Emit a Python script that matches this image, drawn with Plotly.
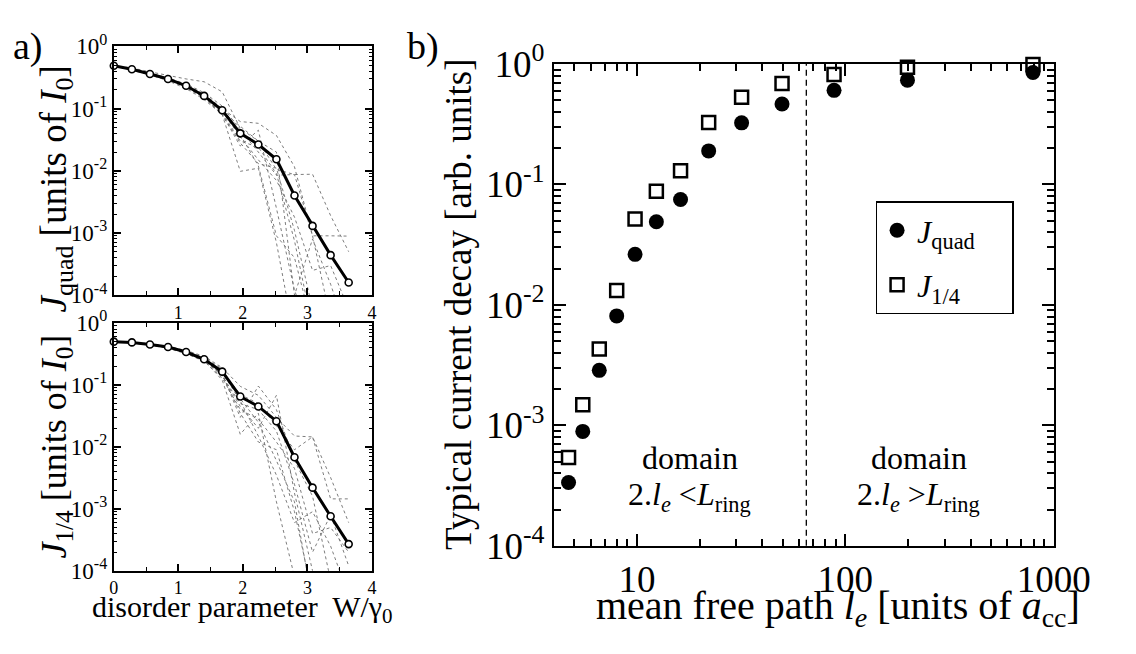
import plotly.graph_objects as go

# ---------------- data ----------------
W = [0, 0.28, 0.56, 0.84, 1.12, 1.40, 1.68, 1.96, 2.24, 2.52, 2.80, 3.08, 3.36, 3.64]

JQUAD_MEAN = [0.49, 0.43, 0.36, 0.30, 0.233, 0.16, 0.094, 0.040, 0.0265, 0.0153, 0.0040, 0.0013, 0.00044, 0.00016]
JQUAD_S1 = [0.49, 0.45, 0.39, 0.34, 0.30, 0.27, 0.186, 0.048, 0.030, 0.0105, 0.0087, 0.0088, 0.0019, 0.0005]
JQUAD_S2 = [0.49, 0.43, 0.37, 0.31, 0.24, 0.17, 0.10, 0.062, 0.058, 0.037, 0.0116, 0.0009, 0.00004, 0.00002]
JQUAD_S3 = [0.49, 0.43, 0.35, 0.29, 0.22, 0.15, 0.085, 0.030, 0.024, 0.009, 0.00075, 0.00003, 0.00002, 0.00002]
JQUAD_S4 = [0.49, 0.42, 0.35, 0.28, 0.21, 0.14, 0.080, 0.0098, 0.011, 0.0007, 0.00002, 0.00002, 0.00002, 0.00002]
JQUAD_S5 = [0.49, 0.44, 0.37, 0.31, 0.25, 0.18, 0.11, 0.045, 0.020, 0.0085, 0.0087, 0.0009, 0.0009, 0.00089]
JQUAD_S6 = [0.49, 0.43, 0.36, 0.30, 0.23, 0.16, 0.090, 0.035, 0.015, 0.007, 0.0018, 0.00025, 0.0003, 0.00006]
JQUAD_S7 = [0.49, 0.43, 0.36, 0.29, 0.22, 0.15, 0.080, 0.025, 0.045, 0.0025, 0.00012, 0.00002, 0.00002, 0.00002]
JQUAD_S8 = [0.49, 0.44, 0.37, 0.30, 0.24, 0.17, 0.10, 0.038, 0.012, 0.0009, 0.0004, 0.00003, 0.00002, 0.00002]
JQUAD_S9 = [0.49, 0.43, 0.36, 0.30, 0.23, 0.16, 0.090, 0.052, 0.030, 0.020, 0.0001, 0.0008, 0.00015, 0.00002]
JQUAD_S10 = [0.49, 0.43, 0.36, 0.30, 0.22, 0.15, 0.080, 0.028, 0.013, 0.011, 0.0011, 0.00006, 0.00002, 0.00002]

J14_MEAN = [0.50, 0.486, 0.45, 0.41, 0.34, 0.26, 0.164, 0.065, 0.045, 0.026, 0.0068, 0.0022, 0.00076, 0.00027]
J14_S1 = [0.50, 0.49, 0.46, 0.42, 0.36, 0.29, 0.19, 0.095, 0.068, 0.030, 0.015, 0.0145, 0.0032, 0.0006]
J14_S2 = [0.50, 0.49, 0.45, 0.40, 0.33, 0.25, 0.15, 0.030, 0.096, 0.040, 0.0060, 0.0016, 0.00007, 0.00003]
J14_S3 = [0.50, 0.48, 0.44, 0.40, 0.33, 0.25, 0.12, 0.016, 0.035, 0.0013, 0.00008, 0.00002, 0.00002, 0.00002]
J14_S4 = [0.50, 0.49, 0.45, 0.41, 0.34, 0.26, 0.14, 0.045, 0.020, 0.068, 0.0018, 0.0001, 0.00002, 0.00002]
J14_S5 = [0.50, 0.49, 0.45, 0.41, 0.35, 0.27, 0.17, 0.070, 0.050, 0.022, 0.009, 0.0145, 0.00145, 0.00145]
J14_S6 = [0.50, 0.48, 0.44, 0.39, 0.32, 0.24, 0.13, 0.040, 0.028, 0.012, 0.0045, 0.0004, 0.0005, 0.0002]
J14_S7 = [0.50, 0.49, 0.46, 0.42, 0.35, 0.28, 0.18, 0.060, 0.025, 0.006, 0.0013, 0.00003, 0.00002, 0.00002]
J14_S8 = [0.50, 0.49, 0.45, 0.41, 0.34, 0.26, 0.16, 0.055, 0.015, 0.0035, 0.0006, 0.0009, 0.00025, 0.00004]
J14_S9 = [0.50, 0.48, 0.45, 0.40, 0.33, 0.25, 0.14, 0.050, 0.040, 0.018, 0.0025, 0.0002, 0.0008, 0.00012]
J14_S10 = [0.50, 0.49, 0.45, 0.41, 0.34, 0.26, 0.15, 0.035, 0.012, 0.009, 0.0009, 0.00004, 0.00002, 0.00002]

LE = [4.7, 5.5, 6.6, 8.0, 9.8, 12.4, 16.2, 22.1, 31.8, 49.7, 88.3, 198.7, 795]
TYP_JQUAD = [3.35e-4, 8.9e-4, 2.86e-3, 8.1e-3, 0.0263, 0.049, 0.075, 0.19, 0.325, 0.466, 0.605, 0.735, 0.85]
TYP_J14 = [5.4e-4, 1.48e-3, 4.3e-3, 0.0132, 0.0516, 0.088, 0.130, 0.327, 0.53, 0.69, 0.82, 0.94, 0.99]
LE_BOUNDARY = 65  # 2 l_e = L_ring

LOG_TICKS = [1e-4, 1e-3, 1e-2, 1e-1, 1]
LOG_TICKTEXT = ["10<sup>-4</sup>", "10<sup>-3</sup>", "10<sup>-2</sup>", "10<sup>-1</sup>", "10<sup>0</sup>"]
A_XTICKS_TOP = [1, 2, 3, 4]
A_XTICKS_BOT = [0, 1, 2, 3, 4]
B_XTICKS = [10, 100, 1000]

FONT = "Liberation Serif"
W_PX, H_PX = 1136, 654


def px(x):
    return x / W_PX


def py(y):
    return 1 - y / H_PX


fig = go.Figure()

# ---------------- panel a ----------------
samples_top = (JQUAD_S1, JQUAD_S2, JQUAD_S3, JQUAD_S4, JQUAD_S5, JQUAD_S6, JQUAD_S7, JQUAD_S8, JQUAD_S9, JQUAD_S10)
samples_bot = (J14_S1, J14_S2, J14_S3, J14_S4, J14_S5, J14_S6, J14_S7, J14_S8, J14_S9, J14_S10)

thin = dict(color="#6e6e6e", width=0.9, dash="dot")
mean_line = dict(color="black", width=3)
mean_marker = dict(symbol="circle", size=7, color="white", line=dict(color="black", width=1.6))

for s in samples_top:
    fig.add_trace(go.Scatter(x=W, y=s, mode="lines", line=thin, xaxis="x", yaxis="y",
                             showlegend=False, hoverinfo="skip"))
fig.add_trace(go.Scatter(x=W, y=JQUAD_MEAN, mode="lines+markers", xaxis="x", yaxis="y", showlegend=False,
                         line=mean_line, marker=mean_marker, cliponaxis=False))
for s in samples_bot:
    fig.add_trace(go.Scatter(x=W, y=s, mode="lines", line=thin, xaxis="x2", yaxis="y2",
                             showlegend=False, hoverinfo="skip"))
fig.add_trace(go.Scatter(x=W, y=J14_MEAN, mode="lines+markers", xaxis="x2", yaxis="y2", showlegend=False,
                         line=mean_line, marker=mean_marker, cliponaxis=False))

# ---------------- panel b ----------------
fig.add_trace(go.Scatter(x=LE, y=TYP_JQUAD, mode="markers", xaxis="x3", yaxis="y3",
                         name="<i>J</i><sub>quad</sub>&nbsp;&nbsp;&nbsp;&nbsp;", legendgroup="g1",
                         cliponaxis=False,
                         marker=dict(symbol="circle", size=15, color="black")))
fig.add_trace(go.Scatter(x=LE, y=TYP_J14, mode="markers", xaxis="x3", yaxis="y3",
                         name="<i>J</i><sub>1/4</sub>", legendgroup="g2", cliponaxis=False,
                         marker=dict(symbol="square-open", size=13, color="black",
                                     line=dict(width=2.5, color="black"))))

axis_common = dict(showline=True, linecolor="black", linewidth=2, mirror="allticks",
                   ticks="inside", tickcolor="black", showgrid=False, zeroline=False)

a_dom_x = [px(113), px(381)]
a_xtickfont = dict(family=FONT, size=18, color="black")
a_ytickfont = dict(family=FONT, size=23, color="black")
b_tickfont = dict(family=FONT, size=37, color="black")
a_xminor = dict(dtick=0.5, ticks="inside", ticklen=4, tickcolor="black", tickwidth=1.2)
a_yminor = dict(dtick="D1", ticks="inside", ticklen=3, tickcolor="black", tickwidth=1)
b_minor = dict(dtick="D1", ticks="inside", ticklen=7, tickcolor="black", tickwidth=1.5)

fig.update_layout(
    xaxis=dict(**axis_common, domain=a_dom_x, anchor="y", range=[0, 4], tickvals=A_XTICKS_TOP,
               ticklen=7, tickwidth=1.5, tickfont=a_xtickfont, minor=a_xminor),
    yaxis=dict(**axis_common, domain=[py(290), py(22)], anchor="x", type="log", range=[-4, 0],
               tickvals=LOG_TICKS, ticktext=LOG_TICKTEXT, ticklen=7, tickwidth=1.5,
               tickfont=a_ytickfont, minor=a_yminor),
    xaxis2=dict(**axis_common, domain=a_dom_x, anchor="y2", range=[0, 4], tickvals=A_XTICKS_BOT,
                ticklen=7, tickwidth=1.5, tickfont=a_xtickfont, minor=a_xminor),
    yaxis2=dict(**axis_common, domain=[py(587), py(320)], anchor="x2", type="log", range=[-4, 0],
                tickvals=LOG_TICKS, ticktext=LOG_TICKTEXT, ticklen=7, tickwidth=1.5,
                tickfont=a_ytickfont, minor=a_yminor),
    xaxis3=dict(**axis_common, domain=[px(570), px(1089)], anchor="y3", type="log", range=[0.602, 3],
                tickvals=B_XTICKS, ticktext=[str(v) for v in B_XTICKS], ticklen=12, tickwidth=1.8,
                tickfont=b_tickfont, minor=b_minor),
    yaxis3=dict(**axis_common, domain=[py(560), py(41)], anchor="x3", type="log", range=[-4, 0],
                tickvals=LOG_TICKS, ticktext=LOG_TICKTEXT, ticklen=12, tickwidth=1.8,
                tickfont=b_tickfont, minor=b_minor),
)

fig.add_shape(type="line", xref="x3", yref="y3 domain", x0=LE_BOUNDARY, x1=LE_BOUNDARY, y0=0, y1=1,
              line=dict(color="black", width=1.3, dash="6px,4px"))

ann = []


def text(x, y, t, size, angle=0):
    ann.append(dict(xref="paper", yref="paper", x=px(x), y=py(y), text=t, showarrow=False,
                    font=dict(family=FONT, size=size, color="black"), textangle=angle,
                    xanchor="center", yanchor="middle"))


text(24, 22, "a)", 38)
text(434, 22, "b)", 38)
text(53, 176, "<i>J</i><sub>quad</sub> [units of <i>I</i><sub>0</sub>]", 37, angle=-90)
text(53, 453, "<i>J</i><sub>1/4</sub> [units of <i>I</i><sub>0</sub>]", 36, angle=-90)
text(247, 628, "disorder parameter  W/γ<sub>0</sub>", 30)
text(471, 300, "Typical current decay [arb. units]", 37, angle=-90)
text(865, 627, "mean free path <i>l</i><sub><i>e</i></sub> [units of <i>a</i><sub>cc</sub>]", 40)
text(711, 465, "domain", 32)
text(711, 507, "2.<i>l</i><sub><i>e</i></sub> &lt;<i>L</i><sub>ring</sub>", 32)
text(949, 465, "domain", 32)
text(949, 507, "2.<i>l</i><sub><i>e</i></sub> &gt;<i>L</i><sub>ring</sub>", 32)

fig.update_layout(
    width=W_PX, height=H_PX,
    margin=dict(l=0, r=0, t=0, b=0),
    paper_bgcolor="white", plot_bgcolor="white",
    annotations=ann,
    showlegend=True,
    legend=dict(x=px(904), y=py(189), xanchor="left", yanchor="top",
                bordercolor="black", borderwidth=1.5, bgcolor="white",
                font=dict(family=FONT, size=32, color="black"),
                tracegroupgap=10, itemwidth=30),
)

fig.write_html("out.html")
